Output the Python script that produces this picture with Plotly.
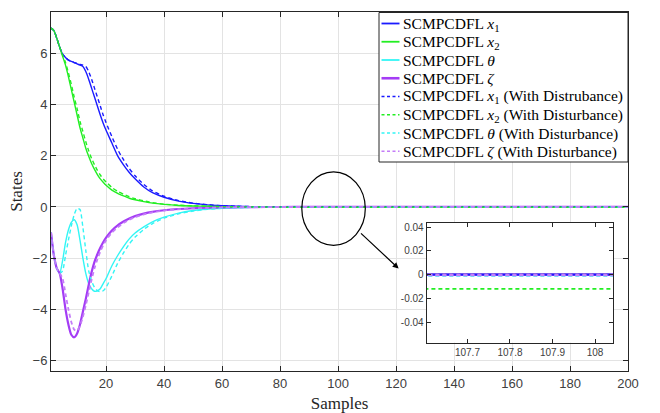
import plotly.graph_objects as go

# Sample indices at which the state trajectories are listed
samples = list(range(1, 21)) + [22, 24, 26, 28, 30, 33, 36, 40, 45, 50, 55, 60, 65, 70,
                                80, 90, 100, 107, 108, 109, 120, 140, 160, 180, 200]

x1 = [7.0, 6.9, 6.6, 6.25, 5.98, 5.85, 5.75, 5.7, 5.65, 5.6, 5.55, 5.5, 5.3, 5.0, 4.65,
      4.3, 3.95, 3.6, 3.28, 3.0,
      2.5, 2.0, 1.65, 1.35, 1.1, 0.78, 0.56, 0.38, 0.23, 0.14, 0.08, 0.05, 0.03, 0.015,
      0.005, 0.0, 0.0, 0.0, 0.0, 0.0, 0.0, 0.0, 0.0, 0.0, 0.0]
x2 = [7.0, 6.9, 6.6, 6.25, 5.9, 5.55, 5.1, 4.6, 4.1, 3.6, 3.1, 2.7, 2.3, 1.98, 1.7,
      1.47, 1.27, 1.1, 0.97, 0.85,
      0.66, 0.53, 0.43, 0.34, 0.28, 0.21, 0.15, 0.1, 0.06, 0.04, 0.025, 0.015, 0.009, 0.005,
      0.001, 0.0, 0.0, 0.0, 0.0, 0.0, 0.0, 0.0, 0.0, 0.0, 0.0]
theta = [-1.0, -1.9, -2.4, -2.6, -2.1, -1.4, -0.9, -0.6, -0.5, -0.7, -1.3, -2.0, -2.6,
         -3.0, -3.2, -3.3, -3.28, -3.2, -3.0, -2.8,
         -2.3, -1.9, -1.55, -1.25, -1.02, -0.78, -0.58, -0.4, -0.24, -0.14, -0.08, -0.05,
         -0.03, -0.015, -0.005, 0.0, 0.0, 0.0, 0.0, 0.0, 0.0, 0.0, 0.0, 0.0, 0.0]
zeta = [-1.0, -1.9, -2.4, -2.6, -3.2, -4.0, -4.6, -5.0, -5.1, -4.95, -4.6, -4.1, -3.6,
        -3.05, -2.55, -2.15, -1.85, -1.6, -1.38, -1.2,
        -0.92, -0.72, -0.57, -0.45, -0.36, -0.26, -0.19, -0.13, -0.08, -0.05, -0.03, -0.02,
        -0.01, -0.005, -0.001, 0.0, 0.0, 0.0, 0.0, 0.0, 0.0, 0.0, 0.0, 0.0, 0.0]

x1_d = [7.0, 6.9, 6.6, 6.25, 5.98, 5.85, 5.75, 5.7, 5.65, 5.62, 5.58, 5.55, 5.5, 5.3, 5.0,
        4.65, 4.3, 3.95, 3.6, 3.3,
        2.75, 2.25, 1.85, 1.5, 1.22, 0.88, 0.63, 0.42, 0.25, 0.15, 0.09, 0.05, 0.03, 0.015,
        0.005, 0.0, 0.0, 0.0, 0.0, 0.0, 0.0, 0.0, 0.0, 0.0, 0.0]
x2_d = [7.0, 6.9, 6.6, 6.25, 5.95, 5.65, 5.25, 4.8, 4.3, 3.85, 3.35, 2.95, 2.55, 2.2, 1.9,
        1.65, 1.43, 1.25, 1.1, 0.98,
        0.76, 0.61, 0.5, 0.4, 0.32, 0.24, 0.17, 0.11, 0.07, 0.045, 0.028, 0.015, 0.006, 0.0,
        -0.008, -0.011, -0.012, -0.012, -0.012, -0.012, -0.012, -0.012, -0.012, -0.012, -0.012]
theta_d = [-1.0, -1.9, -2.4, -2.6, -2.5, -1.9, -1.3, -0.75, -0.3, -0.05, -0.1, -0.8, -1.7,
           -2.5, -2.9, -3.15, -3.28, -3.32, -3.28, -3.15,
           -2.7, -2.2, -1.8, -1.45, -1.18, -0.88, -0.65, -0.44, -0.27, -0.16, -0.09, -0.05,
           -0.03, -0.015, -0.005, -0.002, -0.001, -0.001, -0.001, -0.001, -0.001, -0.001,
           -0.001, -0.001, -0.001]
zeta_d = [-1.0, -1.9, -2.4, -2.6, -2.8, -3.4, -4.0, -4.5, -4.8, -4.85, -4.65, -4.3, -3.85,
          -3.35, -2.85, -2.4, -2.05, -1.75, -1.5, -1.3,
          -1.0, -0.8, -0.63, -0.5, -0.4, -0.29, -0.21, -0.14, -0.09, -0.055, -0.035, -0.02,
          -0.012, -0.006, -0.002, -0.0005, -0.0005, -0.0005, -0.0005, -0.0005, -0.0005,
          -0.0005, -0.0005, -0.0005, -0.0005]

names = ["SCMPCDFL <i>x</i><sub>1</sub>",
         "SCMPCDFL <i>x</i><sub>2</sub>",
         "SCMPCDFL <i>θ</i>",
         "SCMPCDFL <i>ζ</i>",
         "SCMPCDFL <i>x</i><sub>1</sub> (With Distrubance)",
         "SCMPCDFL <i>x</i><sub>2</sub> (With Disturbance)",
         "SCMPCDFL <i>θ</i> (With Disturbance)",
         "SCMPCDFL <i>ζ</i> (With Disturbance)"]

series = [x1, x2, theta, zeta, x1_d, x2_d, theta_d, zeta_d]
colors = ["#1a1aff", "#22ee22", "#33f5f5", "#a43cf5",
          "#1a1aff", "#22ee22", "#33f5f5", "#c47cf8"]
widths = [1.4, 1.4, 1.4, 2.2, 1.4, 1.4, 1.4, 1.8]
dashes = ["solid"] * 4 + ["4px,3px"] * 4

W, H = 660, 413
ML, MR, MT, MB = 51, 32, 12, 42
PW, PH = W - ML - MR, H - MT - MB


def px(xp):
    return (xp - ML) / PW


def py(yp):
    return 1 - (yp - MT) / PH


fig = go.Figure()

# main axes
for ys, c, w, d in zip(series, colors, widths, dashes):
    fig.add_trace(go.Scatter(x=samples, y=ys, mode="lines", showlegend=False,
                             line=dict(color=c, width=w, dash=d,
                                       shape="spline", smoothing=0.6),
                             xaxis="x", yaxis="y"))

# zoomed inset around sample 108
for ys, c, w, d in zip(series, colors, widths, dashes):
    fig.add_trace(go.Scatter(x=samples, y=ys, mode="lines", showlegend=False,
                             line=dict(color=c, width=w + 0.6 if d == "solid" else w + 0.4,
                                       dash=d),
                             xaxis="x2", yaxis="y2"))

axis_col = "#262626"
grid_col = "#e3e3e3"
tick_font = dict(family="Liberation Sans, Arial, sans-serif", size=13, color="#404040")
inset_font = dict(family="Liberation Sans, Arial, sans-serif", size=10, color="#404040")
serif = "Liberation Serif, Times New Roman, serif"

shapes = [
    # white backing for the inset
    dict(type="rect", xref="x2 domain", yref="y2 domain", x0=0, x1=1, y0=0, y1=1,
         fillcolor="white", line=dict(width=0), layer="below"),
    # circle marking the zoomed region
    dict(type="circle", xref="x", yref="y", x0=87.5, x1=109.4, y0=-1.5, y1=1.37,
         line=dict(color="black", width=1.2)),
    # legend box
    dict(type="rect", xref="paper", yref="paper", x0=px(379), x1=px(628),
         y0=py(162), y1=py(12.5), fillcolor="white",
         line=dict(color=axis_col, width=1)),
]
annotations = [
    dict(x=120.9, y=-2.41, ax=107.4, ay=-0.98, xref="x", yref="y",
         axref="x", ayref="y", text="", showarrow=True,
         arrowhead=2, arrowsize=1, arrowwidth=1.2, arrowcolor="black"),
]

# legend entries: line sample + label
row0, row_step = 23.5, 18.25
for i, (nm, c, w, d) in enumerate(zip(names, colors, widths, dashes)):
    yc = row0 + i * row_step
    shapes.append(dict(type="line", xref="paper", yref="paper",
                       x0=px(381.5), x1=px(399.5), y0=py(yc), y1=py(yc),
                       line=dict(color=c, width=w + 0.4 if d == "solid" else 1.6,
                                 dash="solid" if d == "solid" else "3px,2.5px")))
    annotations.append(dict(x=px(400.5), y=py(yc + 0.5), xref="paper", yref="paper",
                            text=nm, showarrow=False, xanchor="left", yanchor="middle",
                            font=dict(family=serif, size=15.5, color="black")))

fig.update_layout(
    width=W, height=H,
    margin=dict(l=ML, r=MR, t=MT, b=MB, autoexpand=False),
    paper_bgcolor="white", plot_bgcolor="white",
    showlegend=False,
    xaxis=dict(range=[1, 200], tickvals=[20, 40, 60, 80, 100, 120, 140, 160, 180, 200],
               showgrid=True, gridcolor=grid_col, zeroline=False, automargin=False,
               showline=True, linecolor=axis_col, linewidth=1, mirror="allticks",
               ticks="inside", ticklen=5, tickcolor=axis_col, tickfont=tick_font,
               title=dict(text="Samples", font=dict(family=serif, size=17, color=axis_col),
                          standoff=10)),
    yaxis=dict(range=[-6.42, 7.63], tickvals=[-6, -4, -2, 0, 2, 4, 6],
               showgrid=True, gridcolor=grid_col, zeroline=False, automargin=False,
               showline=True, linecolor=axis_col, linewidth=1, mirror="allticks",
               ticks="inside", ticklen=5, tickcolor=axis_col, tickfont=tick_font,
               title=dict(text="States", font=dict(family=serif, size=17, color=axis_col),
                          standoff=5)),
    xaxis2=dict(domain=[0.651, 0.9745], anchor="y2", range=[107.604, 108.043],
                tickvals=[107.7, 107.8, 107.9, 108], showgrid=False, zeroline=False,
                showline=True, linecolor=axis_col, linewidth=1, mirror="allticks",
                ticks="inside", ticklen=4, tickcolor=axis_col, tickfont=inset_font),
    yaxis2=dict(domain=[0.079, 0.413], anchor="x2", range=[-0.0574, 0.0437],
                tickvals=[-0.04, -0.02, 0, 0.02, 0.04],
                ticktext=["-0.04", "-0.02", "0", "0.02", "0.04"],
                showgrid=False, zeroline=False,
                showline=True, linecolor=axis_col, linewidth=1, mirror="allticks",
                ticks="inside", ticklen=4, tickcolor=axis_col, tickfont=inset_font),
    shapes=shapes,
    annotations=annotations,
)

fig.write_html("out.html")
